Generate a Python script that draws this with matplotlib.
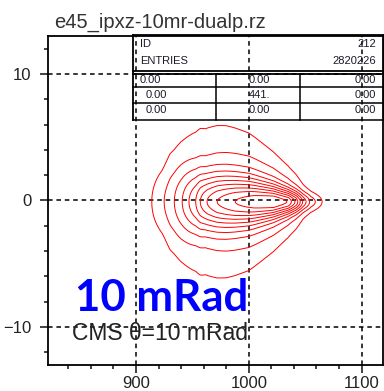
import numpy as np
import matplotlib

matplotlib.use("Agg")
import matplotlib.pyplot as plt  # noqa: E402
from matplotlib.lines import Line2D  # noqa: E402
from matplotlib.ticker import MultipleLocator  # noqa: E402

W, H = 384, 391

title = "e45_ipxz-10mr-dualp.rz"
hist_id = "212"
entries = "2820226"
stat_cells = [["0.00", "0.00", "0.00"],
              ["0.00", "441.", "0.00"],
              ["0.00", "0.00", "0.00"]]

# peak density along z (x axis) and transverse core width of the spot
prof_x = [905, 914, 925, 934, 941, 947, 953, 957, 963, 972, 988, 1005, 1022, 1035, 1042, 1048, 1055, 1065, 1075]
prof_amp = [0.0, 0.1, 0.19, 0.28, 0.37, 0.46, 0.55, 0.64, 0.73, 0.82, 0.91, 0.97, 1.0, 0.9, 0.7, 0.45, 0.25, 0.1, 0.03]
width_x = [905, 923, 930, 940, 962, 980, 1000, 1024, 1036, 1050, 1070]
width_y = [1.9, 1.9, 2.2, 2.1, 1.55, 1.45, 1.25, 0.85, 0.65, 0.5, 0.4]
halo_frac = 0.3
halo_scale = 3.0
y_center = -0.1
levels = [0.1, 0.19, 0.28, 0.37, 0.46, 0.55, 0.64, 0.73, 0.82, 0.91]

label_big = "10 mRad"
label_small = "CMS θ=10 mRad"


def px(x, y):
    """pixel position -> figure fraction"""
    return x / W, 1 - y / H


fig = plt.figure(figsize=(W / 100, H / 100), dpi=100)
ax = fig.add_axes([48 / W, 1 - 365 / H, 335 / W, 329 / H])

xs = np.linspace(822, 1119, 700)
ys = np.linspace(-13, 13, 500)
X, Y = np.meshgrid(xs, ys)
amp = np.interp(X, prof_x, prof_amp)
sig = np.interp(X, width_x, width_y)
u = (Y - y_center) / sig
shape = (1 - halo_frac) * np.exp(-u ** 2 / 2) + halo_frac * np.exp(-u ** 2 / (2 * halo_scale ** 2))
Z = amp * shape
ax.contour(X, Y, Z, levels=levels, colors="red", linewidths=0.7)

ax.set_xlim(822, 1119)
ax.set_ylim(-13, 13)
ax.xaxis.set_major_locator(MultipleLocator(100))
ax.xaxis.set_minor_locator(MultipleLocator(20))
ax.yaxis.set_major_locator(MultipleLocator(10))
ax.yaxis.set_minor_locator(MultipleLocator(2))
ax.tick_params(which="both", direction="out", width=1.2, colors="#222222",
               labelsize=12, labelcolor="#222222")
ax.tick_params(which="major", length=6)
ax.tick_params(axis="x", which="major", pad=2)
ax.tick_params(axis="y", which="major", pad=6)
ax.tick_params(which="minor", length=3)
for lab in ax.get_xticklabels() + ax.get_yticklabels():
    lab.set_family("Liberation Sans")
for s in ax.spines.values():
    s.set_linewidth(1.3)
ax.grid(True, which="major", color="black", linestyle=(0, (3, 2.5)), linewidth=1.1)

fig.text(*px(54, 28), title, fontsize=14.5, family="Liberation Sans",
         color="#333333", va="baseline", ha="left")

# statistics box
box_font = dict(fontsize=8, family="Liberation Sans", color="#1a1a2a", va="center")
hlines = [(35, 1.3), (71, 1.3), (73.5, 1.3), (87, 1.1), (103, 1.1), (120, 1.1)]
for yy, lw in hlines:
    fig.add_artist(Line2D(*zip(px(133, yy), px(384, yy)), color="black", lw=lw))
fig.add_artist(Line2D(*zip(px(133, 35), px(133, 120)), color="black", lw=1.3))
fig.add_artist(Line2D(*zip(px(383.5, 35), px(383.5, 120)), color="black", lw=1.3))
for xx in (216, 300):
    fig.add_artist(Line2D(*zip(px(xx, 73.5), px(xx, 120)), color="black", lw=1.1))

fig.text(*px(140, 44), "ID", ha="left", **box_font)
fig.text(*px(376, 44), hist_id, ha="right", **box_font)
fig.text(*px(140, 61), "ENTRIES", ha="left", **box_font)
fig.text(*px(376, 61), entries, ha="right", **box_font)
row_y = [80, 95, 110]
col1_x = [140, 146, 146]
for r, row in enumerate(stat_cells):
    fig.text(*px(col1_x[r], row_y[r]), row[0], ha="left", **box_font)
    fig.text(*px(249, row_y[r]), row[1], ha="left", **box_font)
    fig.text(*px(376, row_y[r]), row[2], ha="right", **box_font)

fig.text(*px(75, 298), label_big, fontsize=31.5, fontweight="bold", family="Lato",
         color="#0000ff", va="center", ha="left")
fig.text(*px(72, 333), label_small, fontsize=16.5, family="Liberation Sans",
         color="#222222", va="center", ha="left")

fig.savefig("out.png", dpi=100)
plt.close(fig)
